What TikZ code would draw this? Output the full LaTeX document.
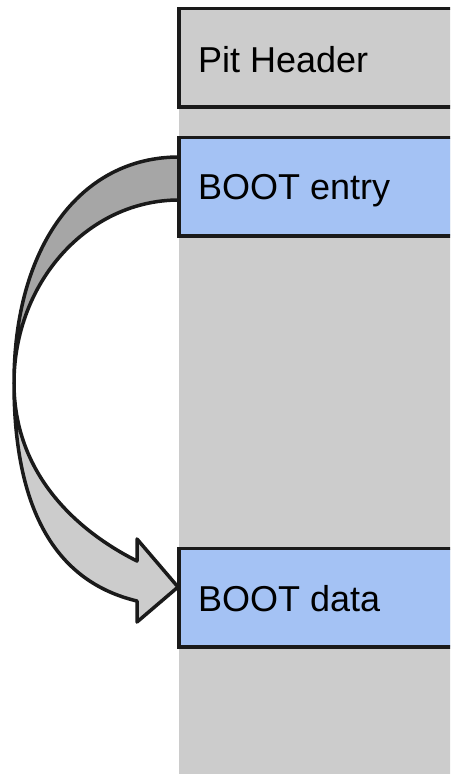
\documentclass[tikz,border=0pt]{standalone}
\usepackage{fontspec}
\setmainfont{Liberation Sans}
\definecolor{boxblue}{HTML}{A4C2F4}
\definecolor{colgray}{HTML}{CCCCCC}
\definecolor{bandgray}{HTML}{A6A6A6}
\definecolor{ink}{HTML}{1A1A1A}
\tikzset{
  memblock/.style={draw=ink, line width=3.5pt, outer sep=0pt, inner sep=0pt,
    minimum width=290pt, minimum height=98.5pt, anchor=north west},
  memlabel/.style={anchor=base west, inner sep=0pt, font=\fontsize{36}{43}\selectfont, text=black},
  band/.style={draw=ink, line width=3.5pt, line join=round}
}
\begin{document}
\begin{tikzpicture}[x=1pt, y=-1pt]
\clip (0,0) rectangle (450,774);
\fill[white] (0,0) rectangle (450,774);
% memory column
\fill[colgray] (179,100) rectangle (460,780);
% curved arrow: upper (back) band
\coordinate (bend) at (14,383);
\filldraw[band, fill=bandgray] (179,157) .. controls (80,157) and (14,247) .. (bend)
  .. controls (14,282) and (88,200) .. (179,200) -- cycle;
% lower (front) band with head
\filldraw[band, fill=colgray] (bend) .. controls (14,530) and (70,585) .. (137,601)
  -- (137,622) -- (178,587) coordinate (tip) -- (137,539) -- (137,561)
  .. controls (85,535) and (14,480) .. (bend) -- cycle;
% blocks
\node[memblock, fill=colgray] (hdr) at (179,8.5) {};
\node[memblock, fill=boxblue] (entry) at (179,137.5) {};
\node[memblock, fill=boxblue] (data) at (179,548.5) {};
\node[memlabel] (hdrtxt) at (198,72) {Pit Header};
\node[memlabel] (entrytxt) at (198,199) {BOOT entry};
\node[memlabel] (datatxt) at (198,611.5) {BOOT data};
\end{tikzpicture}
\end{document}
